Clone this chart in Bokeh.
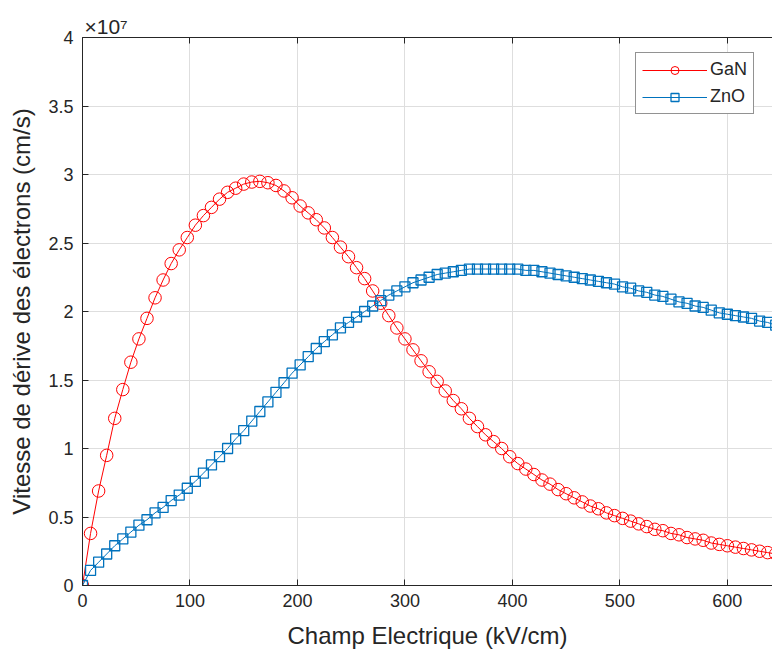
from bokeh.plotting import figure
from bokeh.models import (Range1d, LinearAxis, FixedTicker, CustomJSTickFormatter,
                          Legend, LegendItem, Title)
from bokeh.embed import file_html
from bokeh.resources import INLINE

# Electric field (kV/cm)
field = [0, 7.5, 15, 22.5, 30, 37.5, 45, 52.5, 60, 67.5,
         75, 82.5, 90, 97.5, 105, 112.5, 120, 127.5, 135, 142.5,
         150, 157.5, 165, 172.5, 180, 187.5, 195, 202.5, 210, 217.5,
         225, 232.5, 240, 247.5, 255, 262.5, 270, 277.5, 285, 292.5,
         300, 307.5, 315, 322.5, 330, 337.5, 345, 352.5, 360, 367.5,
         375, 382.5, 390, 397.5, 405, 412.5, 420, 427.5, 435, 442.5,
         450, 457.5, 465, 472.5, 480, 487.5, 495, 502.5, 510, 517.5,
         525, 532.5, 540, 547.5, 555, 562.5, 570, 577.5, 585, 592.5,
         600, 607.5, 615, 622.5, 630, 637.5, 645]

# Drift velocity (x 1e7 cm/s)
gan = [0.00, 0.38, 0.69, 0.95, 1.22, 1.43, 1.63, 1.80, 1.95, 2.10,
       2.23, 2.35, 2.45, 2.54, 2.63, 2.70, 2.76, 2.82, 2.87, 2.90,
       2.93, 2.945, 2.95, 2.94, 2.92, 2.88, 2.83, 2.77, 2.72, 2.67,
       2.61, 2.54, 2.47, 2.40, 2.32, 2.24, 2.15, 2.06, 1.97, 1.88,
       1.80, 1.72, 1.64, 1.56, 1.49, 1.42, 1.35, 1.29, 1.22, 1.16,
       1.10, 1.05, 1.00, 0.94, 0.89, 0.85, 0.81, 0.77, 0.74, 0.70,
       0.67, 0.64, 0.61, 0.58, 0.56, 0.53, 0.51, 0.49, 0.47, 0.45,
       0.43, 0.41, 0.40, 0.38, 0.37, 0.35, 0.34, 0.33, 0.31, 0.30,
       0.29, 0.28, 0.27, 0.26, 0.25, 0.24, 0.23]

zno = [0.00, 0.11, 0.17, 0.23, 0.29, 0.34, 0.39, 0.44, 0.48, 0.53,
       0.57, 0.62, 0.66, 0.71, 0.76, 0.82, 0.88, 0.94, 1.00, 1.07,
       1.13, 1.20, 1.27, 1.34, 1.41, 1.48, 1.55, 1.61, 1.67, 1.73,
       1.78, 1.83, 1.88, 1.92, 1.96, 2.00, 2.04, 2.08, 2.12, 2.15,
       2.18, 2.21, 2.23, 2.25, 2.27, 2.28, 2.29, 2.30, 2.31, 2.31,
       2.31, 2.31, 2.31, 2.31, 2.31, 2.30, 2.30, 2.29, 2.28, 2.27,
       2.26, 2.25, 2.24, 2.23, 2.22, 2.21, 2.20, 2.18, 2.17, 2.15,
       2.14, 2.12, 2.11, 2.09, 2.07, 2.06, 2.04, 2.03, 2.01, 1.99,
       1.98, 1.97, 1.96, 1.95, 1.93, 1.92, 1.90]

x_ticks = [0, 100, 200, 300, 400, 500, 600]
y_ticks = [0, 0.5, 1, 1.5, 2, 2.5, 3, 3.5, 4]

FONT = "Liberation Sans"
AX = "#262626"
RED = "#FF0000"
BLUE = "#0072BD"

p = figure(width=772, height=658, output_backend="svg", toolbar_location=None,
           x_range=Range1d(0, 642), y_range=Range1d(0, 4),
           min_border_left=82, min_border_right=0, min_border_top=37,
           min_border_bottom=73, background_fill_color="white",
           border_fill_color="white", outline_line_color=None)

fmt = CustomJSTickFormatter(code="return tick.toString();")

p.xaxis.ticker = FixedTicker(ticks=x_ticks)
p.yaxis.ticker = FixedTicker(ticks=y_ticks)
p.yaxis.formatter = fmt
p.xaxis.formatter = fmt
p.xaxis.axis_label = "Champ Electrique (kV/cm)"
p.yaxis.axis_label = "Vitesse de dérive des électrons (cm/s)"

for ax in [p.xaxis[0], p.yaxis[0]]:
    ax.axis_line_color = AX
    ax.axis_line_width = 1
    ax.major_tick_in = 6
    ax.major_tick_out = 0
    ax.major_tick_line_color = AX
    ax.minor_tick_line_color = None
    ax.major_label_text_font = FONT
    ax.major_label_text_font_size = "18px"
    ax.major_label_text_color = AX
    ax.axis_label_text_font = FONT
    ax.axis_label_text_font_size = "24px"
    ax.axis_label_text_font_style = "normal"
    ax.axis_label_text_color = AX

p.yaxis.major_label_standoff = 9
p.xaxis.major_label_standoff = 8
p.yaxis.axis_label_standoff = 10
p.xaxis.axis_label_standoff = 12

# top border of the box with inward ticks (no labels)
top = LinearAxis(ticker=FixedTicker(ticks=x_ticks), major_label_text_font_size="1px",
                 major_label_text_color=None, major_label_standoff=0,
                 major_tick_in=6, major_tick_out=0, minor_tick_line_color=None,
                 axis_line_color=AX, major_tick_line_color=AX, formatter=fmt)
p.add_layout(top, "above")

p.xgrid.ticker = FixedTicker(ticks=x_ticks)
p.ygrid.ticker = FixedTicker(ticks=y_ticks)
p.grid.grid_line_color = "#dedede"
p.grid.grid_line_width = 1

gl = p.line(field, gan, line_color=RED, line_width=1)
gm = p.scatter(field, gan, marker="circle", size=12.5, fill_color=None,
               line_color=RED, line_width=1)
zl = p.line(field, zno, line_color=BLUE, line_width=1)
zm = p.scatter(field, zno, marker="square", size=10, fill_color=None,
               line_color=BLUE, line_width=1.3)

legend = Legend(items=[LegendItem(label="GaN", renderers=[gl, gm]),
                       LegendItem(label="ZnO", renderers=[zl, zm])],
                location=(553, 471), orientation="vertical",
                border_line_color=AX, border_line_width=1,
                background_fill_color="white", background_fill_alpha=1,
                label_text_font=FONT, label_text_font_size="18px",
                label_text_color=AX, glyph_width=65, glyph_height=20,
                label_height=20, label_standoff=3, spacing=6, padding=6,
                margin=0)
p.add_layout(legend, "center")

# exponent multiplier above the y axis
p.add_layout(Title(text="×10⁷", align="left", offset=2, standoff=0,
                   text_font=FONT, text_font_size="21px", text_font_style="normal",
                   text_color=AX), "above")

open("out.html", "w").write(file_html(p, INLINE))
